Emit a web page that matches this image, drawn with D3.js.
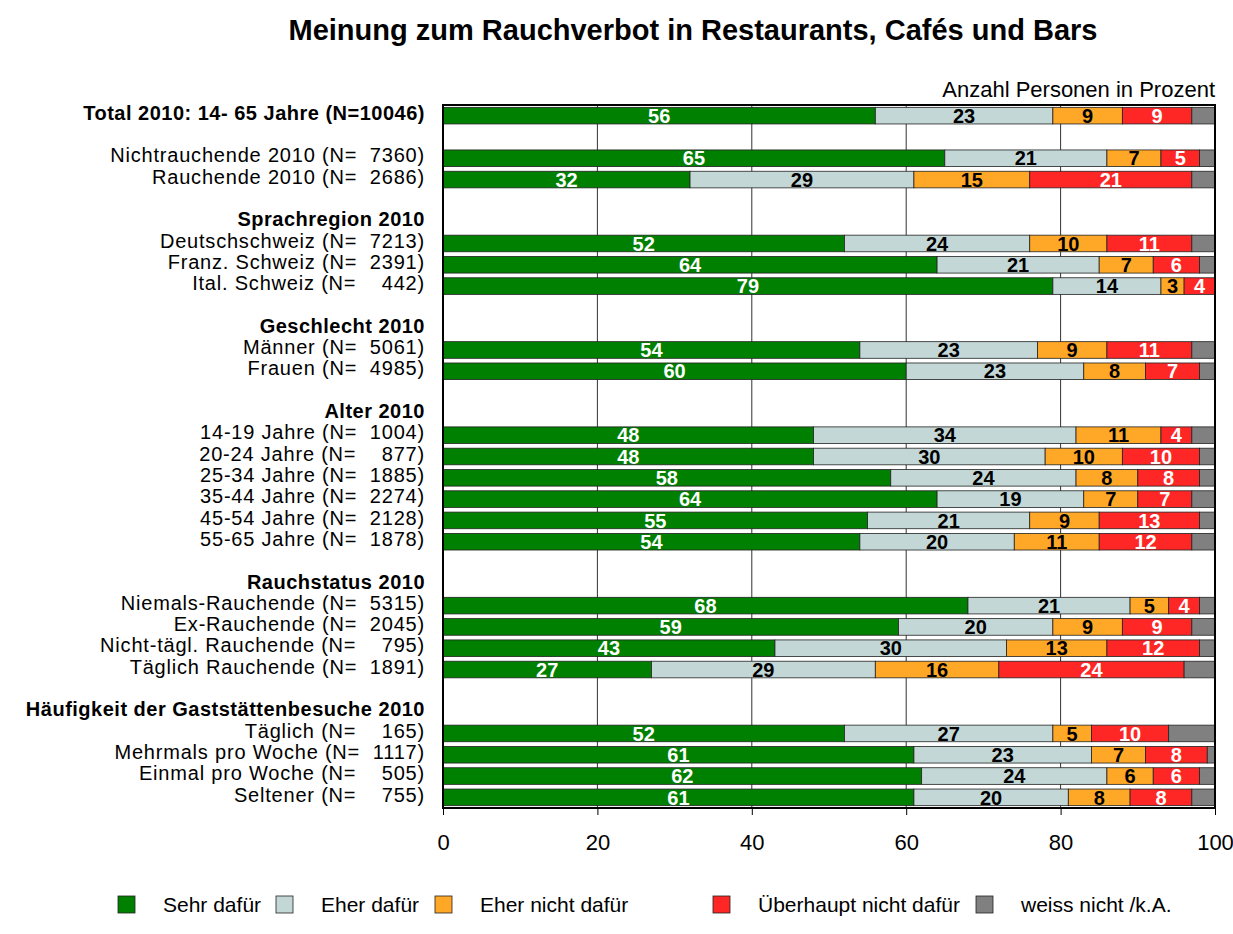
<!DOCTYPE html>
<html>
<head>
<meta charset="utf-8">
<script src="https://cdn.jsdelivr.net/npm/d3@7"></script>
<style>
  body { margin: 0; background: #fff; }
  svg { font-family: "Liberation Sans", Arial, sans-serif; display: block; }
</style>
</head>
<body>
<div id="chart"></div>
<script>
// Zeilen (leere Zeilen = Abstand, header = fett ohne Balken)
const rowLabels = [
  "Total 2010: 14- 65 Jahre (N=10046)", "",
  "Nichtrauchende 2010 (N=  7360)", "Rauchende 2010 (N=  2686)", "",
  "Sprachregion 2010", "Deutschschweiz (N=  7213)", "Franz. Schweiz (N=  2391)", "Ital. Schweiz (N=    442)", "",
  "Geschlecht 2010", "Männer (N=  5061)", "Frauen (N=  4985)", "",
  "Alter 2010", "14-19 Jahre (N=  1004)", "20-24 Jahre (N=    877)", "25-34 Jahre (N=  1885)",
  "35-44 Jahre (N=  2274)", "45-54 Jahre (N=  2128)", "55-65 Jahre (N=  1878)", "",
  "Rauchstatus 2010", "Niemals-Rauchende (N=  5315)", "Ex-Rauchende (N=  2045)",
  "Nicht-tägl. Rauchende (N=    795)", "Täglich Rauchende (N=  1891)", "",
  "Häufigkeit der Gaststättenbesuche 2010", "Täglich (N=    165)", "Mehrmals pro Woche (N=  1117)",
  "Einmal pro Woche (N=    505)", "Seltener (N=    755)"
];
const boldRows = [0, 5, 10, 14, 22, 28];

const sehrDafuer      = [56, null, 65, 32, null, null, 52, 64, 79, null, null, 54, 60, null, null, 48, 48, 58, 64, 55, 54, null, null, 68, 59, 43, 27, null, null, 52, 61, 62, 61];
const eherDafuer      = [23, null, 21, 29, null, null, 24, 21, 14, null, null, 23, 23, null, null, 34, 30, 24, 19, 21, 20, null, null, 21, 20, 30, 29, null, null, 27, 23, 24, 20];
const eherNichtDafuer = [9,  null, 7,  15, null, null, 10, 7,  3,  null, null, 9,  8,  null, null, 11, 10, 8,  7,  9,  11, null, null, 5,  9,  13, 16, null, null, 5,  7,  6,  8];
const ueberhauptNicht = [9,  null, 5,  21, null, null, 11, 6,  4,  null, null, 11, 7,  null, null, 4,  10, 8,  7,  13, 12, null, null, 4,  9,  12, 24, null, null, 10, 8,  6,  8];
const weissNicht      = [3,  null, 2,  3,  null, null, 3,  2,  0,  null, null, 3,  2,  null, null, 3,  2,  2,  3,  2,  3,  null, null, 2,  3,  2,  4,  null, null, 6,  1,  2,  3];

const seriesNames = ["Sehr dafür", "Eher dafür", "Eher nicht dafür", "Überhaupt nicht dafür", "weiss nicht /k.A."];
const seriesColors = ["#008000", "#c3d7d7", "#ffa726", "#ff2626", "#808080"];
const labelColors = ["#fff", "#000", "#000", "#fff", null];
const xTicks = [0, 20, 40, 60, 80, 100];

const W = 1233, H = 934;
const plotL = 443, plotR = 1215, plotT = 105, plotB = 808;

const svg = d3.select("#chart").append("svg").attr("width", W).attr("height", H);

const x = d3.scaleLinear().domain([0, 100]).range([plotL, plotR]);
const y = d3.scaleBand().domain(d3.range(rowLabels.length)).range([plotT, plotB])
  .paddingInner(0.22).paddingOuter(0.11);

// Titel
svg.append("text").attr("x", 693).attr("y", 40).attr("text-anchor", "middle")
  .style("font-size", "29px").style("font-weight", "bold")
  .text("Meinung zum Rauchverbot in Restaurants, Cafés und Bars");

svg.append("text").attr("x", plotR).attr("y", 97).attr("text-anchor", "end")
  .style("font-size", "22px").text("Anzahl Personen in Prozent");

// Gitter
svg.append("g").selectAll("line").data(xTicks.slice(1, -1)).join("line")
  .attr("x1", d => x(d)).attr("x2", d => x(d)).attr("y1", plotT).attr("y2", plotB)
  .attr("stroke", "#333").attr("stroke-width", 1);

// Balken
const series = [sehrDafuer, eherDafuer, eherNichtDafuer, ueberhauptNicht, weissNicht];
const rows = rowLabels.map((lab, i) => {
  let acc = 0;
  const segs = [];
  if (sehrDafuer[i] != null) {
    series.forEach((s, k) => {
      segs.push({ k, x0: acc, x1: acc + s[i], v: s[i] });
      acc += s[i];
    });
  }
  return { i, segs };
});

const rowG = svg.append("g").selectAll("g").data(rows).join("g");

rowG.selectAll("rect").data(d => d.segs.filter(s => s.v > 0).map(s => ({ ...s, row: d.i }))).join("rect")
  .attr("x", s => x(s.x0)).attr("y", s => y(s.row))
  .attr("width", s => x(s.x1) - x(s.x0)).attr("height", y.bandwidth())
  .attr("fill", s => seriesColors[s.k]).attr("stroke", "#222").attr("stroke-width", 0.8);

rowG.selectAll("text").data(d => d.segs.filter(s => labelColors[s.k] && s.v > 0).map(s => ({ ...s, row: d.i }))).join("text")
  .attr("x", s => x((s.x0 + s.x1) / 2)).attr("y", s => y(s.row) + y.bandwidth() / 2)
  .attr("dy", "0.36em").attr("text-anchor", "middle")
  .style("font-size", "20px").style("font-weight", "bold")
  .attr("fill", s => labelColors[s.k]).text(s => s.v);

// Rahmen
svg.append("rect").attr("x", plotL).attr("y", plotT).attr("width", plotR - plotL).attr("height", plotB - plotT)
  .attr("fill", "none").attr("stroke", "#000").attr("stroke-width", 2);

// Zeilenbeschriftung
svg.append("g").selectAll("text").data(rowLabels.map((l, i) => ({ l, i })).filter(d => d.l)).join("text")
  .attr("x", 425).attr("y", d => y(d.i) + y.bandwidth() / 2 - 3)
  .attr("dy", "0.36em").attr("text-anchor", "end")
  .style("white-space", "pre")
  .style("font-size", "20px")
  .style("letter-spacing", d => boldRows.includes(d.i) ? "0.5px" : "0.8px")
  .style("font-weight", d => boldRows.includes(d.i) ? "bold" : "normal")
  .text(d => d.l);

// x-Achse
const axis = svg.append("g").attr("transform", `translate(0,${plotB})`)
  .call(d3.axisBottom(x).tickValues(xTicks).tickSize(7).tickSizeOuter(0));
axis.select(".domain").remove();
axis.selectAll("line").attr("stroke", "#000");
axis.selectAll("text").style("font-size", "22px").style("font-family", "Liberation Sans, Arial, sans-serif")
  .attr("fill", "#000").attr("y", 26);

// Legende
const legendX = [118, 276, 435, 713, 976];
const lg = svg.append("g").selectAll("g").data(seriesNames).join("g")
  .attr("transform", (d, i) => `translate(${legendX[i]},896)`);
lg.append("rect").attr("width", 17).attr("height", 17)
  .attr("fill", (d, i) => seriesColors[i]).attr("stroke", "#222").attr("stroke-width", 0.8);
lg.append("text").attr("x", 45).attr("y", 8.5).attr("dy", "0.36em")
  .style("font-size", "21px").text(d => d);
</script>
</body>
</html>
